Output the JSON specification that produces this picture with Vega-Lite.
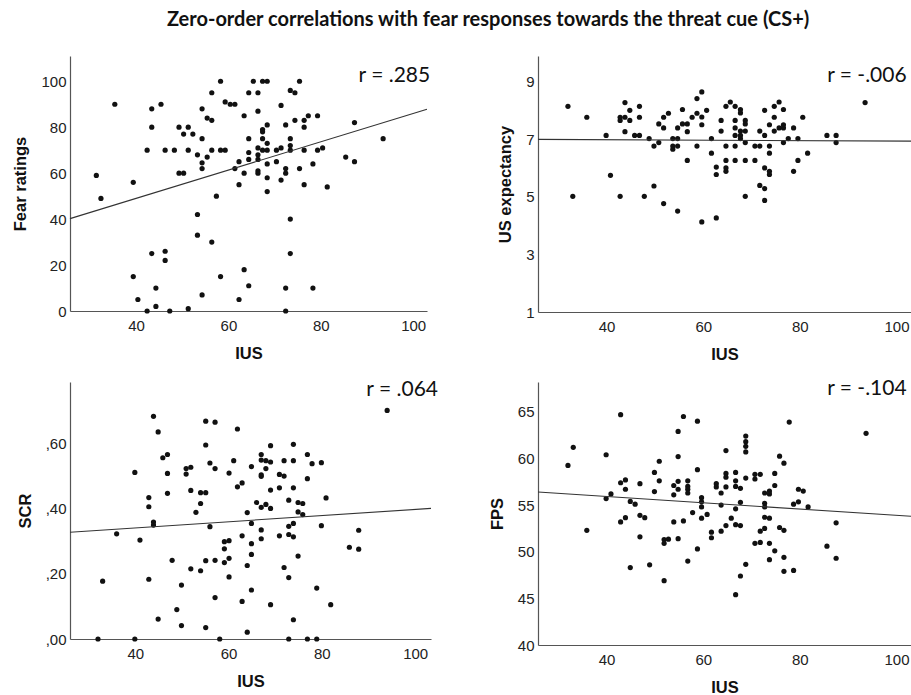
{
  "$schema": "https://vega.github.io/schema/vega-lite/v6.json",
  "padding": {"left": 12, "top": 10, "right": 0, "bottom": 0},
  "background": "white",
  "title": {"text": "Zero-order correlations with fear responses towards the threat cue (CS+)", "font": "Lato", "fontSize": 20, "fontWeight": "bold", "color": "#111", "anchor": "middle", "offset": 26, "dx": 25},
  "config": {
    "view": {"stroke": null},
    "axis": {"domainColor": "#555", "domainWidth": 1.2, "ticks": false, "tickSize": 0, "grid": false, "labelFont": "Arial", "labelFontSize": 15, "labelColor": "#222", "titleFont": "Arial", "titleFontSize": 16.5, "titleFontWeight": "bold", "titleColor": "#111"},
    "axisX": {"labelPadding": 7, "titlePadding": 12},
    "axisY": {"labelPadding": 4, "titlePadding": 12}
  },
  "datasets": {
    "fear": [
      {"ius":31.4,"value":59},{"ius":32.4,"value":49},{"ius":35.4,"value":90},{"ius":39.4,"value":56},{"ius":39.4,"value":15},{"ius":40.4,"value":5},{"ius":42.4,"value":70},{"ius":42.4,"value":0},{"ius":43.4,"value":88},{"ius":43.4,"value":80},{"ius":43.4,"value":25},{"ius":44.3,"value":10},{"ius":44.3,"value":2},{"ius":45.4,"value":90},{"ius":46.3,"value":70},{"ius":46.3,"value":26},{"ius":46.3,"value":22},{"ius":47.3,"value":0},{"ius":48.3,"value":70},{"ius":49.3,"value":80},{"ius":49.3,"value":60},{"ius":50.3,"value":60},{"ius":50.3,"value":77},{"ius":51.3,"value":80},{"ius":51.3,"value":70},{"ius":51.3,"value":1},{"ius":52.3,"value":77},{"ius":53.3,"value":68},{"ius":53.3,"value":42},{"ius":53.3,"value":33},{"ius":54.3,"value":88},{"ius":54.3,"value":75},{"ius":54.3,"value":64.5},{"ius":54.3,"value":62},{"ius":54.3,"value":7},{"ius":55.4,"value":84},{"ius":56.4,"value":83},{"ius":55.4,"value":67},{"ius":56.4,"value":95},{"ius":56.4,"value":70},{"ius":56.4,"value":30},{"ius":57.4,"value":50},{"ius":58.3,"value":100},{"ius":58.3,"value":70},{"ius":59.3,"value":70},{"ius":58.3,"value":15},{"ius":59.3,"value":91},{"ius":60.4,"value":90},{"ius":61.4,"value":90},{"ius":61.4,"value":62},{"ius":62.3,"value":65},{"ius":62.3,"value":55},{"ius":62.3,"value":5},
      {"ius":63.4,"value":60},{"ius":63.4,"value":18},{"ius":63.4,"value":85},{"ius":64.4,"value":95},{"ius":64.4,"value":75},{"ius":64.4,"value":69},{"ius":64.4,"value":66},{"ius":64.4,"value":11},{"ius":65.4,"value":100},{"ius":66.4,"value":95},{"ius":66.4,"value":87},{"ius":66.4,"value":71},{"ius":66.4,"value":68},{"ius":66.4,"value":66},{"ius":66.4,"value":61},{"ius":66.4,"value":60},{"ius":67.4,"value":100},{"ius":68.4,"value":100},{"ius":67.4,"value":79},{"ius":67.4,"value":78},{"ius":68.4,"value":81},{"ius":67.4,"value":75},{"ius":67.4,"value":70},{"ius":68.4,"value":73},{"ius":68.4,"value":70},{"ius":68.4,"value":64},{"ius":68.4,"value":58},{"ius":68.4,"value":52},{"ius":70.4,"value":70},{"ius":70.4,"value":65},{"ius":71.4,"value":89.5},{"ius":71.4,"value":71},{"ius":71.4,"value":57},{"ius":72.4,"value":81},{"ius":72.4,"value":62},{"ius":72.4,"value":60},{"ius":72.4,"value":10},{"ius":72.4,"value":0},{"ius":73.4,"value":96},{"ius":74.4,"value":95},{"ius":73.4,"value":75},{"ius":73.4,"value":72},{"ius":73.4,"value":70},{"ius":73.4,"value":40},{"ius":73.4,"value":25},{"ius":75.4,"value":100},{"ius":74.4,"value":83},{"ius":75.4,"value":62},{"ius":76.4,"value":83},{"ius":76.4,"value":80},{"ius":76.4,"value":70},{"ius":76.4,"value":55},{"ius":77.3,"value":85},{"ius":78.3,"value":64},{"ius":78.3,"value":10},{"ius":79.3,"value":85},{"ius":79.3,"value":70},{"ius":80.4,"value":71},{"ius":81.4,"value":54},{"ius":85.4,"value":67},{"ius":87.3,"value":82},{"ius":87.3,"value":65},{"ius":93.5,"value":75}
    ],
    "fearFit": [{"ius":25.7,"value":40.2},{"ius":103,"value":87.8}],
    "us": [
      {"ius":32.0,"value":8.15},{"ius":33.0,"value":5.02},{"ius":35.9,"value":7.77},{"ius":39.9,"value":7.14},{"ius":40.8,"value":5.75},{"ius":42.8,"value":5.02},{"ius":42.8,"value":7.77},{"ius":42.8,"value":7.66},{"ius":43.8,"value":8.28},{"ius":43.8,"value":7.77},{"ius":43.8,"value":7.27},{"ius":44.8,"value":8.01},{"ius":44.8,"value":7.66},{"ius":45.8,"value":7.14},{"ius":46.8,"value":7.14},{"ius":46.8,"value":8.15},{"ius":46.8,"value":7.77},{"ius":47.8,"value":5.02},{"ius":48.8,"value":7.03},{"ius":49.8,"value":6.77},{"ius":49.8,"value":5.38},{"ius":50.8,"value":6.89},{"ius":50.8,"value":7.54},{"ius":51.8,"value":7.77},{"ius":51.8,"value":7.40},{"ius":51.8,"value":4.77},{"ius":52.8,"value":7.91},{"ius":53.7,"value":7.03},{"ius":53.7,"value":6.77},{"ius":53.7,"value":6.66},{"ius":54.7,"value":7.40},{"ius":54.7,"value":7.03},{"ius":54.7,"value":6.77},{"ius":54.7,"value":4.51},{"ius":55.7,"value":8.04},{"ius":55.7,"value":7.54},{"ius":56.7,"value":7.54},{"ius":56.7,"value":7.27},{"ius":56.7,"value":6.27},{"ius":57.7,"value":7.77},{"ius":58.7,"value":8.42},{"ius":58.7,"value":7.91},{"ius":58.7,"value":6.77},
      {"ius":59.7,"value":8.65},{"ius":59.7,"value":7.78},{"ius":59.7,"value":7.51},{"ius":59.7,"value":4.13},{"ius":60.7,"value":8.01},{"ius":61.7,"value":7.03},{"ius":61.7,"value":6.52},{"ius":62.7,"value":6.04},{"ius":62.7,"value":5.78},{"ius":62.7,"value":4.27},{"ius":63.7,"value":7.66},{"ius":63.7,"value":7.29},{"ius":64.7,"value":8.15},{"ius":64.7,"value":6.77},{"ius":64.7,"value":6.27},{"ius":64.7,"value":6.01},{"ius":64.7,"value":5.89},{"ius":65.6,"value":8.30},{"ius":66.6,"value":8.15},{"ius":66.6,"value":7.66},{"ius":66.6,"value":7.40},{"ius":66.6,"value":7.14},{"ius":66.6,"value":6.77},{"ius":66.6,"value":6.27},{"ius":67.7,"value":8.04},{"ius":67.7,"value":7.92},{"ius":67.7,"value":7.29},{"ius":67.7,"value":7.14},{"ius":67.7,"value":7.03},{"ius":68.7,"value":7.66},{"ius":68.7,"value":7.54},{"ius":68.7,"value":7.29},{"ius":68.7,"value":6.89},{"ius":68.7,"value":6.27},{"ius":68.7,"value":5.02},{"ius":70.7,"value":6.77},{"ius":70.7,"value":6.27},{"ius":71.7,"value":6.77},{"ius":71.7,"value":7.29},{"ius":71.7,"value":5.40},{"ius":72.7,"value":8.01},{"ius":72.7,"value":7.14},{"ius":72.7,"value":6.01},{"ius":72.7,"value":5.29},{"ius":72.7,"value":4.88},{"ius":73.7,"value":7.51},{"ius":73.7,"value":6.77},{"ius":73.7,"value":6.52},{"ius":73.7,"value":5.89},{"ius":73.7,"value":5.78},{"ius":74.7,"value":8.15},{"ius":74.7,"value":7.77},{"ius":74.7,"value":7.29},{"ius":75.7,"value":8.30},{"ius":75.7,"value":7.40},{"ius":76.6,"value":8.04},{"ius":76.6,"value":7.51},{"ius":76.6,"value":7.40},{"ius":76.6,"value":6.89},{"ius":77.6,"value":7.03},{"ius":78.7,"value":7.40},{"ius":78.7,"value":5.89},{"ius":79.6,"value":7.03},{"ius":79.6,"value":6.27},{"ius":80.6,"value":7.77},{"ius":81.6,"value":6.52},{"ius":85.6,"value":7.14},{"ius":87.5,"value":7.14},{"ius":87.5,"value":6.89},{"ius":93.5,"value":8.28}
    ],
    "usFit": [{"ius":25.8,"value":7.0},{"ius":103,"value":6.94}],
    "scr": [
      {"ius":32.0,"value":0},{"ius":33.0,"value":0.177},{"ius":36.0,"value":0.322},{"ius":39.9,"value":0.510},{"ius":39.9,"value":0},{"ius":41.0,"value":0.303},{"ius":42.9,"value":0.433},{"ius":42.9,"value":0.405},{"ius":42.9,"value":0.183},{"ius":43.9,"value":0.682},{"ius":43.9,"value":0.358},{"ius":43.9,"value":0.349},{"ius":44.9,"value":0.634},{"ius":44.9,"value":0.061},{"ius":45.9,"value":0.555},{"ius":46.9,"value":0.565},{"ius":46.9,"value":0.507},{"ius":46.9,"value":0.446},{"ius":47.9,"value":0.241},{"ius":48.9,"value":0.090},{"ius":49.9,"value":0.165},{"ius":49.9,"value":0.041},{"ius":50.9,"value":0.522},{"ius":50.9,"value":0.505},{"ius":51.9,"value":0.526},{"ius":51.9,"value":0.455},{"ius":51.9,"value":0.215},{"ius":53.0,"value":0.388},{"ius":54.0,"value":0.415},{"ius":54.0,"value":0.448},{"ius":54.0,"value":0.209},{"ius":55.1,"value":0.667},{"ius":55.1,"value":0.594},{"ius":55.1,"value":0.448},{"ius":55.1,"value":0.240},{"ius":55.1,"value":0.035},{"ius":56.0,"value":0.539},{"ius":56.0,"value":0.344},{"ius":57.1,"value":0.664},{"ius":57.1,"value":0.522},{"ius":57.1,"value":0.241},{"ius":57.1,"value":0.127},{"ius":58.1,"value":0},{"ius":59.1,"value":0.276},{"ius":59.1,"value":0.298},{"ius":59.1,"value":0.234},{"ius":60.1,"value":0.508},{"ius":60.1,"value":0.301},{"ius":60.1,"value":0.247},{"ius":60.1,"value":0.190},{"ius":61.1,"value":0.546},{"ius":61.9,"value":0.643},{"ius":61.9,"value":0.466},
      {"ius":62.9,"value":0.478},{"ius":62.9,"value":0.316},{"ius":62.9,"value":0.115},{"ius":64.0,"value":0.387},{"ius":64.0,"value":0.225},{"ius":64.0,"value":0.021},{"ius":64.9,"value":0.528},{"ius":64.9,"value":0.354},{"ius":64.9,"value":0.292},{"ius":64.9,"value":0.259},{"ius":64.9,"value":0.150},{"ius":66.0,"value":0.418},{"ius":67.0,"value":0.565},{"ius":67.0,"value":0.548},{"ius":67.0,"value":0.503},{"ius":67.0,"value":0.498},{"ius":67.0,"value":0.403},{"ius":67.0,"value":0.334},{"ius":67.0,"value":0.307},{"ius":68.0,"value":0.546},{"ius":68.0,"value":0.522},{"ius":68.0,"value":0.412},{"ius":69.0,"value":0.592},{"ius":69.0,"value":0.542},{"ius":69.0,"value":0.456},{"ius":69.0,"value":0.400},{"ius":69.0,"value":0.105},{"ius":70.9,"value":0.504},{"ius":70.9,"value":0.463},{"ius":70.9,"value":0.316},{"ius":71.9,"value":0.499},{"ius":71.9,"value":0.546},{"ius":71.9,"value":0.219},{"ius":72.9,"value":0.425},{"ius":72.9,"value":0.345},{"ius":72.9,"value":0.320},{"ius":72.9,"value":0.188},{"ius":72.9,"value":0},{"ius":73.9,"value":0.596},{"ius":73.9,"value":0.546},{"ius":73.9,"value":0.463},{"ius":73.9,"value":0.354},{"ius":73.9,"value":0.313},{"ius":73.9,"value":0.059},{"ius":74.9,"value":0.418},{"ius":74.9,"value":0.389},{"ius":74.9,"value":0.254},{"ius":75.9,"value":0.415},{"ius":75.9,"value":0.381},{"ius":76.9,"value":0.565},{"ius":76.9,"value":0.491},{"ius":76.9,"value":0},{"ius":77.9,"value":0.537},{"ius":78.9,"value":0.156},{"ius":78.9,"value":0},{"ius":79.9,"value":0.540},{"ius":79.9,"value":0.347},{"ius":80.9,"value":0.432},{"ius":81.9,"value":0.105},{"ius":85.9,"value":0.281},{"ius":87.9,"value":0.333},{"ius":87.9,"value":0.275},{"ius":94.0,"value":0.700}
    ],
    "scrFit": [{"ius":26,"value":0.327},{"ius":103.4,"value":0.400}],
    "fps": [
      {"ius":32.0,"value":59.26},{"ius":33.1,"value":61.2},{"ius":35.9,"value":52.3},{"ius":39.9,"value":60.4},{"ius":39.9,"value":55.7},{"ius":40.9,"value":56.2},{"ius":42.9,"value":64.7},{"ius":42.9,"value":57.4},{"ius":42.9,"value":53.2},{"ius":43.9,"value":57.7},{"ius":43.9,"value":56.7},{"ius":43.9,"value":53.65},{"ius":44.9,"value":55.4},{"ius":44.9,"value":48.3},{"ius":45.9,"value":55.1},{"ius":46.9,"value":57.3},{"ius":46.9,"value":53.9},{"ius":46.9,"value":51.6},{"ius":47.9,"value":53.65},{"ius":48.9,"value":48.6},{"ius":49.9,"value":58.5},{"ius":49.9,"value":56.45},{"ius":50.9,"value":59.7},{"ius":50.9,"value":57.6},{"ius":51.9,"value":51.3},{"ius":51.9,"value":50.9},{"ius":51.9,"value":46.9},{"ius":52.8,"value":51.35},{"ius":53.9,"value":57.1},{"ius":53.9,"value":56.1},{"ius":53.9,"value":53.2},{"ius":54.8,"value":62.9},{"ius":54.8,"value":60.2},{"ius":54.8,"value":57.55},{"ius":54.8,"value":56.7},{"ius":54.8,"value":51.4},{"ius":55.9,"value":64.5},{"ius":55.9,"value":53.3},{"ius":56.8,"value":57.6},{"ius":56.8,"value":57.0},{"ius":56.8,"value":56.7},{"ius":56.8,"value":56.3},{"ius":56.8,"value":49.0},{"ius":57.8,"value":54.2},{"ius":58.8,"value":64.0},{"ius":58.8,"value":58.8},{"ius":58.8,"value":50.3},
      {"ius":59.65,"value":55.8},{"ius":59.65,"value":55.35},{"ius":59.65,"value":54.8},{"ius":59.65,"value":53.6},{"ius":60.8,"value":54.0},{"ius":61.7,"value":52.1},{"ius":61.7,"value":51.5},{"ius":62.7,"value":57.3},{"ius":62.7,"value":56.95},{"ius":63.7,"value":56.3},{"ius":63.7,"value":55.0},{"ius":63.7,"value":52.2},{"ius":64.7,"value":60.85},{"ius":64.7,"value":58.4},{"ius":64.7,"value":58.0},{"ius":64.7,"value":56.95},{"ius":64.7,"value":52.8},{"ius":65.8,"value":53.6},{"ius":66.7,"value":58.5},{"ius":66.7,"value":57.6},{"ius":66.7,"value":57.0},{"ius":66.7,"value":54.6},{"ius":66.7,"value":52.9},{"ius":66.7,"value":45.4},{"ius":67.7,"value":56.8},{"ius":67.7,"value":55.3},{"ius":67.7,"value":52.8},{"ius":67.7,"value":47.4},{"ius":68.8,"value":62.4},{"ius":68.8,"value":61.8},{"ius":68.8,"value":61.3},{"ius":68.8,"value":60.7},{"ius":68.8,"value":57.9},{"ius":68.8,"value":48.65},{"ius":70.7,"value":58.3},{"ius":70.7,"value":57.8},{"ius":70.7,"value":50.9},{"ius":71.8,"value":58.3},{"ius":71.8,"value":52.2},{"ius":71.8,"value":51.0},{"ius":72.7,"value":56.3},{"ius":72.7,"value":55.2},{"ius":72.7,"value":54.8},{"ius":72.7,"value":53.7},{"ius":72.7,"value":52.5},{"ius":73.7,"value":56.5},{"ius":73.7,"value":56.2},{"ius":73.7,"value":53.6},{"ius":73.7,"value":50.9},{"ius":73.7,"value":49.15},{"ius":74.8,"value":58.4},{"ius":74.8,"value":57.1},{"ius":74.8,"value":50.1},{"ius":75.8,"value":60.25},{"ius":75.8,"value":52.6},{"ius":76.7,"value":59.5},{"ius":76.7,"value":52.3},{"ius":76.7,"value":49.4},{"ius":76.7,"value":47.9},{"ius":77.8,"value":63.9},{"ius":78.7,"value":55.1},{"ius":78.7,"value":48.0},{"ius":79.7,"value":56.7},{"ius":79.7,"value":55.35},{"ius":80.7,"value":56.5},{"ius":81.7,"value":54.8},{"ius":85.6,"value":50.6},{"ius":87.5,"value":53.1},{"ius":87.5,"value":49.3},{"ius":93.7,"value":62.7}
    ],
    "fpsFit": [{"ius":25.8,"value":56.4},{"ius":103,"value":53.8}]
  },
  "columns": 2,
  "bounds": "flush",
  "spacing": {"column": 107, "row": 70},
  "concat": [
    {
      "width": 357, "height": 255,
      "layer": [
        {"data": {"name": "fear"}, "mark": {"type": "circle", "size": 27, "color": "#111", "opacity": 1},
         "encoding": {
           "x": {"field": "ius", "type": "quantitative", "title": "IUS", "scale": {"domain": [25.7, 103], "nice": false, "zero": false}, "axis": {"values": [40, 60, 80, 100]}},
           "y": {"field": "value", "type": "quantitative", "title": "Fear ratings", "scale": {"domain": [0, 111], "nice": false}, "axis": {"values": [0, 20, 40, 60, 80, 100]}}}},
        {"data": {"name": "fearFit"}, "mark": {"type": "line", "color": "#333", "strokeWidth": 1.1},
         "encoding": {"x": {"field": "ius", "type": "quantitative"}, "y": {"field": "value", "type": "quantitative"}}},
        {"data": {"values": [{"label": "r = .285"}]}, "mark": {"type": "text", "font": "Lato", "fontSize": 21, "align": "right", "baseline": "middle", "color": "#111"},
         "encoding": {"text": {"field": "label"}, "x": {"datum": 103.7}, "y": {"datum": 102.2}}}
      ]
    },
    {
      "width": 373, "height": 256,
      "layer": [
        {"data": {"name": "us"}, "mark": {"type": "circle", "size": 27, "color": "#111", "opacity": 1},
         "encoding": {
           "x": {"field": "ius", "type": "quantitative", "title": "IUS", "scale": {"domain": [25.8, 103], "nice": false, "zero": false}, "axis": {"values": [40, 60, 80, 100]}},
           "y": {"field": "value", "type": "quantitative", "title": "US expectancy", "scale": {"domain": [1, 9.9], "nice": false, "zero": false}, "axis": {"values": [1, 3, 5, 7, 9]}}}},
        {"data": {"name": "usFit"}, "mark": {"type": "line", "color": "#333", "strokeWidth": 1.1},
         "encoding": {"x": {"field": "ius", "type": "quantitative"}, "y": {"field": "value", "type": "quantitative"}}},
        {"data": {"values": [{"label": "r = -.006"}]}, "mark": {"type": "text", "font": "Lato", "fontSize": 21, "align": "right", "baseline": "middle", "color": "#111"},
         "encoding": {"text": {"field": "label"}, "x": {"datum": 102.1}, "y": {"datum": 9.22}}}
      ]
    },
    {
      "width": 361, "height": 257,
      "layer": [
        {"data": {"name": "scr"}, "mark": {"type": "circle", "size": 27, "color": "#111", "opacity": 1},
         "encoding": {
           "x": {"field": "ius", "type": "quantitative", "title": "IUS", "scale": {"domain": [26, 103.4], "nice": false, "zero": false}, "axis": {"values": [40, 60, 80, 100]}},
           "y": {"field": "value", "type": "quantitative", "title": "SCR", "scale": {"domain": [0, 0.787], "nice": false}, "axis": {"values": [0, 0.2, 0.4, 0.6], "labelExpr": "',' + substring(format(datum.value, '.2f'), 2)"}}}},
        {"data": {"name": "scrFit"}, "mark": {"type": "line", "color": "#333", "strokeWidth": 1.1},
         "encoding": {"x": {"field": "ius", "type": "quantitative"}, "y": {"field": "value", "type": "quantitative"}}},
        {"data": {"values": [{"label": "r = .064"}]}, "mark": {"type": "text", "font": "Lato", "fontSize": 21, "align": "right", "baseline": "middle", "color": "#111"},
         "encoding": {"text": {"field": "label"}, "x": {"datum": 104.9}, "y": {"datum": 0.764}}}
      ]
    },
    {
      "width": 373, "height": 263,
      "layer": [
        {"data": {"name": "fps"}, "mark": {"type": "circle", "size": 27, "color": "#111", "opacity": 1},
         "encoding": {
           "x": {"field": "ius", "type": "quantitative", "title": "IUS", "scale": {"domain": [25.8, 103], "nice": false, "zero": false}, "axis": {"values": [40, 60, 80, 100]}},
           "y": {"field": "value", "type": "quantitative", "title": "FPS", "scale": {"domain": [40, 68.2], "nice": false, "zero": false}, "axis": {"values": [40, 45, 50, 55, 60, 65]}}}},
        {"data": {"name": "fpsFit"}, "mark": {"type": "line", "color": "#333", "strokeWidth": 1.1},
         "encoding": {"x": {"field": "ius", "type": "quantitative"}, "y": {"field": "value", "type": "quantitative"}}},
        {"data": {"values": [{"label": "r = -.104"}]}, "mark": {"type": "text", "font": "Lato", "fontSize": 21, "align": "right", "baseline": "middle", "color": "#111"},
         "encoding": {"text": {"field": "label"}, "x": {"datum": 102.1}, "y": {"datum": 67.5}}}
      ]
    }
  ]
}
